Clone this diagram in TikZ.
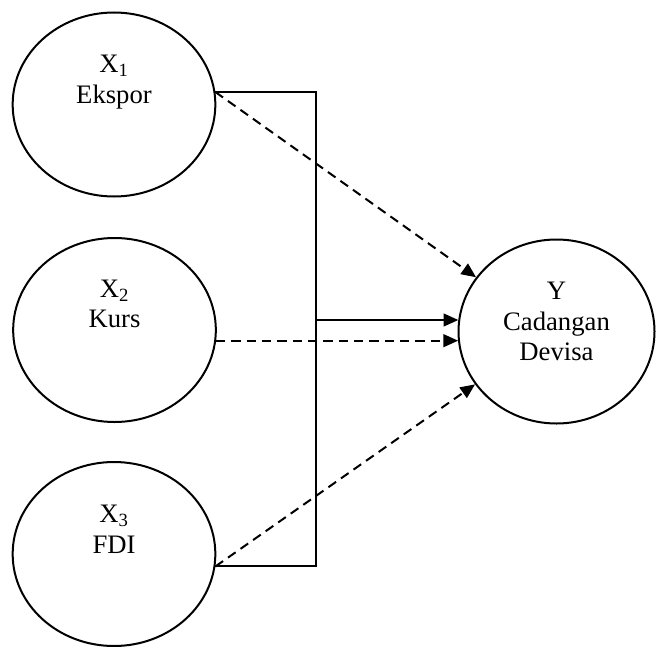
\documentclass[tikz,border=0pt]{standalone}
\usepackage{fontspec}
\setmainfont{Liberation Serif}
\usepackage{tikz}
\usetikzlibrary{shapes.geometric,arrows.meta}

\begin{document}
\begin{tikzpicture}[x=0.75pt,y=0.75pt,yscale=-1,xscale=1,
	varnode/.style={draw,ellipse,line width=1.5pt,minimum width=152pt,minimum height=138pt,inner sep=0pt},
	lbl/.style={align=center,inner sep=0pt,font=\fontsize{20}{23}\selectfont},
	link/.style={line width=1.5pt},
	dashlink/.style={line width=1.5pt,dash pattern=on 7pt off 4.5pt},
	tip/.style={-{Triangle[length=11pt,width=9.5pt]}}]
	\useasboundingbox (0,0) rectangle (656,646);
	
	%Shape: Ellipse
	\node[varnode] (x1) at (114,104.5) {};
	%Shape: Ellipse
	\node[varnode] (x2) at (114.5,330) {};
	%Shape: Ellipse
	\node[varnode] (x3) at (114,554) {};
	%Shape: Ellipse
	\node[varnode,minimum width=147pt] (y) at (556.5,331.5) {};
	
	%Straight Lines
	\coordinate (bus) at (316,320);
	\draw[link] (x1.7) -| (bus) |- (x3.-7);
	\draw[link,tip] (bus) -- (bus -| y.173);
	%Straight Lines
	\draw[dashlink,tip] (x1.7) -- (y.146);
	\draw[dashlink,tip] (x2.354) -- (x2.354 -| y.186);
	\draw[dashlink,tip] (x3.-7) -- (y.213);
	
	% Text Node
	\node[lbl] (x1t) at (114,82) {X\textsubscript{1}\\Ekspor};
	% Text Node
	\node[lbl] (x2t) at (114.5,304) {X\textsubscript{2}\\Kurs};
	% Text Node
	\node[lbl] (x3t) at (114,529) {X\textsubscript{3}\\FDI};
	% Text Node
	\node[lbl] (yt) at (556.5,321.5) {Y\\Cadangan\\Devisa};
	
\end{tikzpicture}
\end{document}
